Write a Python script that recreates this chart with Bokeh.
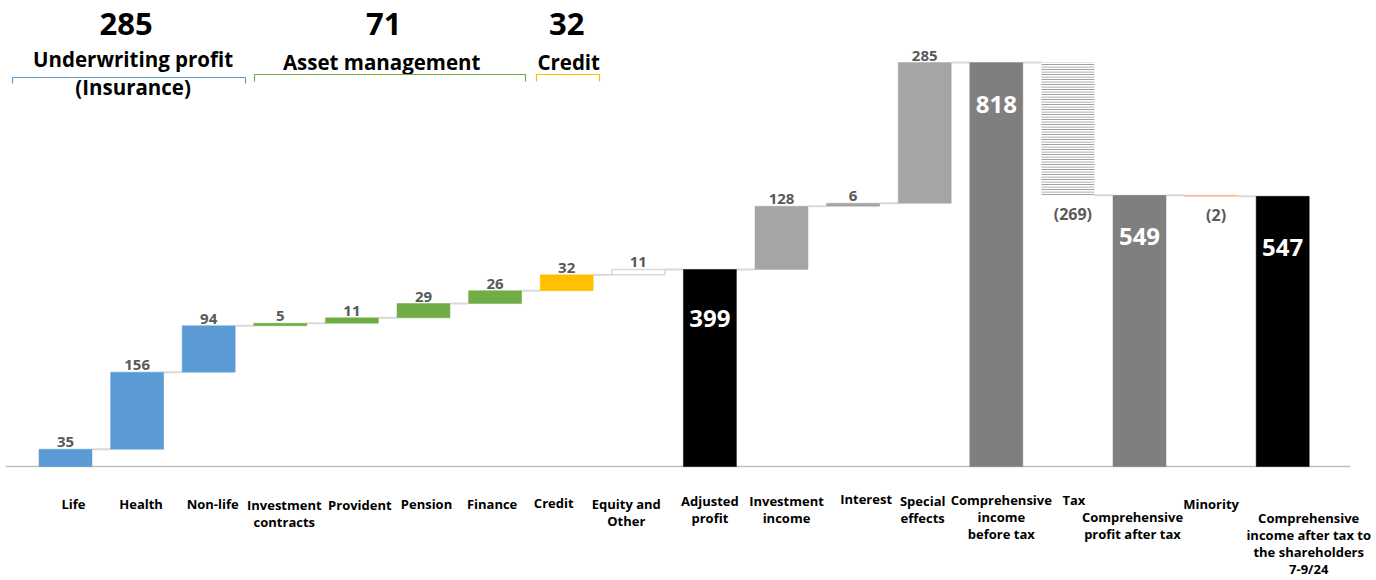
from bokeh.plotting import figure
from bokeh.models import Range1d, ColumnDataSource
from bokeh.core.properties import value
from bokeh.embed import file_html
from bokeh.resources import INLINE

# ---------------- data ----------------
categories = ["Life", "Health", "Non-life", "Investment\ncontracts", "Provident",
              "Pension", "Finance", "Credit", "Equity and\nOther", "Adjusted\nprofit",
              "Investment\nincome", "Interest", "Special\neffects",
              "Comprehensive\nincome\nbefore tax", "Tax",
              "Comprehensive\nprofit after tax", "Minority",
              "Comprehensive\nincome after tax to\nthe shareholders\n7-9/24"]
values = [35, 156, 94, 5, 11, 29, 26, 32, 11, 399, 128, 6, 285, 818, -269, 549, -2, 547]
is_total = [False, False, False, False, False, False, False, False, False, True,
            False, False, False, True, False, True, False, True]
group_names = ["Underwriting profit\n(Insurance)", "Asset management", "Credit"]
group_members = [[0, 1, 2], [3, 4, 5, 6], [7]]

# ---------------- styles ----------------
bar_colors = ["#5b9bd5", "#5b9bd5", "#5b9bd5", "#70ad47", "#70ad47", "#70ad47", "#70ad47",
              "#ffc000", "#ffffff", "#000000", "#a5a5a5", "#a5a5a5", "#a5a5a5",
              "#7f7f7f", "#ffffff", "#7f7f7f", "#f4b183", "#000000"]
group_colors = ["#5b9bd5", "#70ad47", "#ffc000"]
FONT = value("Open Sans")

W, H = 1376, 580
PX_X = 71.6            # pixels per category
X0 = 65.0              # pixel of first category centre
BASE = 466.0           # pixel of zero line
K = 404.0 / 818.0      # pixels per unit

def dx(px):
    return (px - X0) / PX_X

def dy(py):
    return (BASE - py) / K

# ---------------- waterfall geometry ----------------
n = len(values)
idx = list(range(n))
bottoms, tops, levels = [], [], []
run = 0
for v, t in zip(values, is_total):
    if t:
        b, tp = 0, v
        run = v
    else:
        b, tp = (run, run + v) if v >= 0 else (run + v, run)
        run = run + v
    bottoms.append(b)
    tops.append(tp)
    levels.append(run)

p = figure(width=W, height=H, output_backend="svg", toolbar_location=None,
           x_range=Range1d(dx(0), dx(W)), y_range=Range1d(dy(H), dy(0)),
           x_axis_location=None, y_axis_location=None, min_border=0,
           outline_line_color=None, background_fill_color="white")
p.grid.visible = False

# baseline
p.segment(x0=[dx(5)], y0=[0], x1=[dx(1350)], y1=[0], line_color="#bfbfbf", line_width=1.5)

# connectors
BW = 0.74
cx0 = [i + BW / 2 for i in idx[:-1]]
cx1 = [i + 1 - BW / 2 for i in idx[:-1]]
p.segment(x0=cx0, y0=levels[:-1], x1=cx1, y1=levels[:-1], line_color="#d9d9d9", line_width=2)

# bars
normal = [i for i in idx if i not in (8, 14)]
src = ColumnDataSource(dict(x=[i for i in normal], top=[tops[i] for i in normal],
                            bottom=[bottoms[i] for i in normal],
                            color=[bar_colors[i] for i in normal]))
p.vbar(x="x", top="top", bottom="bottom", width=BW, fill_color="color",
       line_color="color", line_width=0.5, source=src)
# equity and other: outlined
p.vbar(x=[8], top=[tops[8]], bottom=[bottoms[8]], width=BW, fill_color="white",
       line_color="#d9d9d9", line_width=1.5)
# tax: hatched
p.vbar(x=[14], top=[tops[14]], bottom=[bottoms[14]], width=BW, fill_color="white",
       line_color=None, hatch_pattern="horizontal_line", hatch_color="#8c8c8c",
       hatch_scale=2.5, hatch_weight=1)

# value labels
pos = [i for i in idx if not is_total[i] and values[i] >= 0]
p.text(x=pos, y=[tops[i] for i in pos], text=[str(values[i]) for i in pos],
       text_font=FONT, text_font_style="bold", text_font_size="15px",
       text_color="#595959", text_align="center", text_baseline="bottom", y_offset=-2)
neg = [i for i in idx if not is_total[i] and values[i] < 0]
p.text(x=neg, y=[bottoms[i] for i in neg], text=["(%d)" % abs(values[i]) for i in neg],
       text_font=FONT, text_font_style="bold", text_font_size="16px",
       text_color="#595959", text_align="center", text_baseline="middle",
       x_offset=5, y_offset=19)
tot = [i for i in idx if is_total[i]]
tot_off = {9: 49, 13: 42, 15: 41, 17: 51}
p.text(x=tot, y=[tops[i] for i in tot], text=[str(values[i]) for i in tot],
       text_font=FONT, text_font_style="bold", text_font_size="24px",
       text_color="white", text_align="center", text_baseline="middle",
       y_offset=[tot_off[i] for i in tot])

# category labels (first-line centre offsets below the zero line)
lab_dx = [8, 4, 4, 4, 8, 3, -3, -13, -12, 0, 5, 13, -2, 5, 6, -7, 0, 26]
lab_dy = [38, 38, 38, 39, 39, 38, 38, 37, 38, 35, 35, 33, 35, 34, 34, 51, 38, 52]
p.text(x=idx, y=[0] * n, text=categories, text_font=FONT, text_font_style="bold",
       text_font_size="13px", text_color="black", text_align="center",
       text_baseline="top", text_line_height=0.95,
       x_offset=lab_dx, y_offset=[d - 10 for d in lab_dy])

# group headers
grp_tot = [sum(values[i] for i in g) for g in group_members]
grp_cx = [sum(g) / len(g) for g in group_members]
num_dx = [-11, -4, 0]
p.text(x=grp_cx, y=[dy(23)] * 3, text=[str(t) for t in grp_tot], text_font=FONT,
       text_font_style="bold", text_font_size="31px", text_color="black",
       text_align="center", text_baseline="middle", x_offset=num_dx)
name_dx = [-4, -6, 2]
p.text(x=grp_cx, y=[dy(44)] * 3, text=group_names, text_font=FONT,
       text_font_style="bold", text_font_size="20.5px", text_color="black",
       text_align="center", text_baseline="top", text_line_height=1.0,
       x_offset=name_dx, y_offset=[0, 3, 3])
br_x = [(12, 245), (254, 525), (536, 599)]
br_y = [(77, 83), (74, 81), (74, 81)]
xs = [[dx(a), dx(a), dx(b), dx(b)] for a, b in br_x]
ys = [[dy(l), dy(t), dy(t), dy(l)] for t, l in br_y]
p.multi_line(xs=xs, ys=ys, line_color=group_colors, line_width=1.2)

open("out.html", "w").write(file_html(p, INLINE))
